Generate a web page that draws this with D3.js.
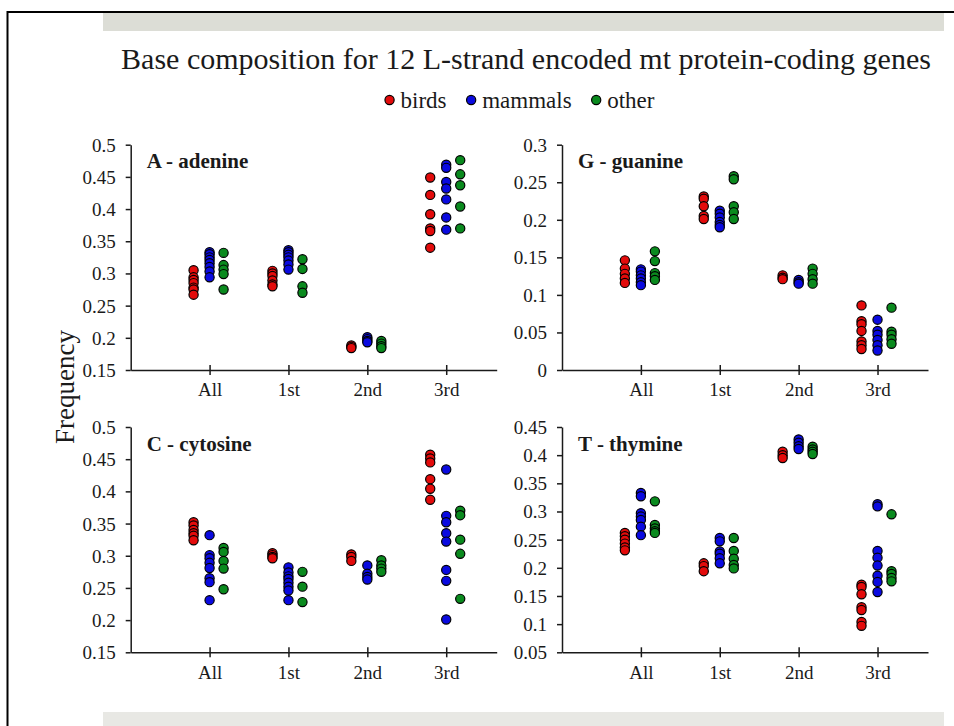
<!DOCTYPE html>
<html>
<head>
<meta charset="utf-8">
<script src="https://cdn.jsdelivr.net/npm/d3@7"></script>
<style>
  body { margin: 0; background: #fff; }
  svg { display: block; }
  svg text { font-family: "Liberation Serif", "Times New Roman", serif; }
</style>
</head>
<body>
<div id="chart"></div>
<script>
var categories = ["All", "1st", "2nd", "3rd"];
var seriesNames = ["birds", "mammals", "other"];

// each array: one list of values per category (All, 1st, 2nd, 3rd)
var adenineBirds = [
  [0.305, 0.294, 0.290, 0.285, 0.278, 0.275, 0.267],
  [0.304, 0.300, 0.296, 0.289, 0.283, 0.280],
  [0.188, 0.186, 0.184],
  [0.449, 0.422, 0.392, 0.370, 0.366, 0.340]
];
var adenineMammals = [
  [0.333, 0.330, 0.325, 0.321, 0.316, 0.310, 0.303, 0.294],
  [0.336, 0.333, 0.329, 0.325, 0.320, 0.314, 0.306],
  [0.201, 0.198, 0.195, 0.193],
  [0.469, 0.464, 0.442, 0.432, 0.415, 0.387, 0.368]
];
var adenineOther = [
  [0.332, 0.313, 0.306, 0.299, 0.275],
  [0.322, 0.307, 0.280, 0.270],
  [0.195, 0.191, 0.187, 0.184],
  [0.476, 0.454, 0.437, 0.404, 0.370]
];

var guanineBirds = [
  [0.146, 0.135, 0.128, 0.122, 0.116],
  [0.231, 0.228, 0.218, 0.205, 0.201],
  [0.126, 0.123, 0.121],
  [0.086, 0.065, 0.061, 0.052, 0.038, 0.033, 0.028]
];
var guanineMammals = [
  [0.134, 0.131, 0.126, 0.122, 0.117, 0.113],
  [0.212, 0.208, 0.203, 0.197, 0.193, 0.190],
  [0.120, 0.117, 0.115],
  [0.067, 0.052, 0.047, 0.040, 0.033, 0.026]
];
var guanineOther = [
  [0.158, 0.145, 0.129, 0.125, 0.120],
  [0.258, 0.254, 0.218, 0.210, 0.201],
  [0.135, 0.128, 0.121, 0.115],
  [0.083, 0.051, 0.047, 0.041, 0.035]
];

var cytosineBirds = [
  [0.352, 0.347, 0.340, 0.335, 0.331, 0.324],
  [0.304, 0.301, 0.298, 0.296],
  [0.302, 0.298, 0.292],
  [0.457, 0.451, 0.445, 0.419, 0.404, 0.387]
];
var cytosineMammals = [
  [0.332, 0.301, 0.296, 0.289, 0.281, 0.265, 0.259, 0.231],
  [0.282, 0.274, 0.268, 0.264, 0.258, 0.252, 0.246, 0.231],
  [0.285, 0.272, 0.267, 0.263],
  [0.434, 0.362, 0.352, 0.335, 0.322, 0.278, 0.261, 0.201]
];
var cytosineOther = [
  [0.312, 0.306, 0.292, 0.280, 0.248],
  [0.275, 0.252, 0.228],
  [0.293, 0.285, 0.280, 0.275],
  [0.370, 0.363, 0.325, 0.303, 0.233]
];

var thymineBirds = [
  [0.262, 0.256, 0.250, 0.243, 0.236, 0.231],
  [0.208, 0.203, 0.194],
  [0.406, 0.400, 0.395],
  [0.170, 0.166, 0.153, 0.130, 0.125, 0.104, 0.097]
];
var thymineMammals = [
  [0.333, 0.327, 0.297, 0.291, 0.285, 0.273, 0.258],
  [0.253, 0.247, 0.229, 0.225, 0.217, 0.208],
  [0.428, 0.422, 0.416, 0.411],
  [0.313, 0.309, 0.230, 0.218, 0.204, 0.186, 0.175, 0.157]
];
var thymineOther = [
  [0.318, 0.276, 0.270, 0.265, 0.262],
  [0.253, 0.230, 0.216, 0.205, 0.199],
  [0.415, 0.410, 0.406, 0.402],
  [0.295, 0.194, 0.189, 0.182, 0.176]
];

var adenineTicks = [0.15, 0.2, 0.25, 0.3, 0.35, 0.4, 0.45, 0.5];
var guanineTicks = [0, 0.05, 0.1, 0.15, 0.2, 0.25, 0.3];
var cytosineTicks = [0.15, 0.2, 0.25, 0.3, 0.35, 0.4, 0.45, 0.5];
var thymineTicks = [0.05, 0.1, 0.15, 0.2, 0.25, 0.3, 0.35, 0.4, 0.45];

var panels = [
  {title: "A - adenine", ticks: adenineTicks, series: [adenineBirds, adenineMammals, adenineOther], col: 0, row: 0},
  {title: "G - guanine", ticks: guanineTicks, series: [guanineBirds, guanineMammals, guanineOther], col: 1, row: 0},
  {title: "C - cytosine", ticks: cytosineTicks, series: [cytosineBirds, cytosineMammals, cytosineOther], col: 0, row: 1},
  {title: "T - thymine", ticks: thymineTicks, series: [thymineBirds, thymineMammals, thymineOther], col: 1, row: 1}
];

var width = 954,
    height = 726,
    colors = ["#e30b0b", "#0a0ae0", "#0a8a1e"],
    offsets = [-16, 0, 14],
    panelLeft = [130.7, 562],
    panelTop = [144.7, 427],
    panelW = 366,
    panelH = 225.3,
    dotR = 4.6,
    ink = "#1a1a1a",
    serif = "\"Liberation Serif\", \"Times New Roman\", serif";

var svg = d3.select("#chart")
  .append("svg")
  .attr("width", width)
  .attr("height", height);

// frame and grey bands
svg.append("rect").attr("x", 103).attr("y", 13).attr("width", 841).attr("height", 18).attr("fill", "#dcddd6");
svg.append("rect").attr("x", 103).attr("y", 712).attr("width", 841).attr("height", 14).attr("fill", "#e8e8e4");
svg.append("path")
  .attr("d", "M7.5,726V12H954")
  .attr("fill", "none")
  .attr("stroke", "#000")
  .attr("stroke-width", 2);

// title
svg.append("text")
  .attr("x", 526)
  .attr("y", 69)
  .attr("text-anchor", "middle")
  .attr("fill", ink)
  .style("font-family", serif)
  .style("font-size", "30px")
  .text("Base composition for 12 L-strand encoded mt protein-coding genes");

// legend
var legend = svg.append("g");
var lx = 0, gap = 20;
var items = legend.selectAll("g")
  .data(seriesNames)
  .enter().append("g");
items.append("circle")
  .attr("r", dotR)
  .attr("fill", (d, i) => colors[i])
  .attr("stroke", "#000")
  .attr("stroke-width", 1.2);
items.append("text")
  .attr("x", 11)
  .attr("y", 7.5)
  .attr("fill", ink)
  .style("font-family", serif)
  .style("font-size", "23px")
  .text(d => d);
items.each(function() {
  var g = d3.select(this);
  g.attr("transform", `translate(${lx},0)`);
  lx += 11 + g.select("text").node().getComputedTextLength() + gap + dotR;
});
lx -= gap + dotR;
legend.attr("transform", `translate(${522 - lx / 2},100)`);

// y label
svg.append("text")
  .attr("transform", "translate(74,387) rotate(-90)")
  .attr("text-anchor", "middle")
  .attr("fill", ink)
  .style("font-family", serif)
  .style("font-size", "27px")
  .text("Frequency");

panels.forEach(p => {
  var g = svg.append("g")
    .attr("transform", `translate(${panelLeft[p.col]},${panelTop[p.row]})`);

  var x = d3.scaleLinear().domain([0, 4.64]).range([0, panelW]);
  var y = d3.scaleLinear().domain(d3.extent(p.ticks)).range([panelH, 0]);

  var yAxis = d3.axisLeft(y)
    .tickValues(p.ticks)
    .tickSizeInner(5)
    .tickSizeOuter(0)
    .tickPadding(10)
    .tickFormat(d => String(+d.toFixed(2)));

  var xAxis = d3.axisBottom(x)
    .tickValues([1, 2, 3, 4])
    .tickSizeInner(5)
    .tickSizeOuter(0)
    .tickFormat((d, i) => categories[i]);

  var ya = g.append("g").attr("class", "y axis").call(yAxis);
  var xa = g.append("g").attr("class", "x axis")
    .attr("transform", `translate(0,${panelH})`)
    .call(xAxis);

  [ya, xa].forEach(a => {
    a.attr("font-family", null);
    a.selectAll("path, line").attr("stroke", ink).attr("stroke-width", 1.5);
    a.selectAll("text")
      .attr("fill", ink)
      .style("font-family", serif)
      .style("font-size", "19px");
  });
  ya.selectAll("text").attr("dy", "0.34em");
  xa.selectAll(".tick line").attr("y1", -5).attr("y2", 5);
  xa.selectAll(".tick text").attr("y", 13);

  // panel label
  g.append("text")
    .attr("x", 16)
    .attr("y", 23.5)
    .attr("fill", ink)
    .style("font-family", serif)
    .style("font-weight", "bold")
    .style("font-size", "21px")
    .text(p.title);

  // dots
  p.series.forEach((ser, s) => {
    var pts = [];
    ser.forEach((vals, c) => vals.forEach(v => pts.push({c: c, v: v})));
    g.append("g").selectAll("circle")
      .data(pts)
      .enter()
      .append("circle")
      .attr("cx", d => x(d.c + 1) + offsets[s])
      .attr("cy", d => y(d.v))
      .attr("r", dotR)
      .attr("fill", colors[s])
      .attr("stroke", "#000")
      .attr("stroke-width", 1.2);
  });
});
</script>
</body>
</html>
